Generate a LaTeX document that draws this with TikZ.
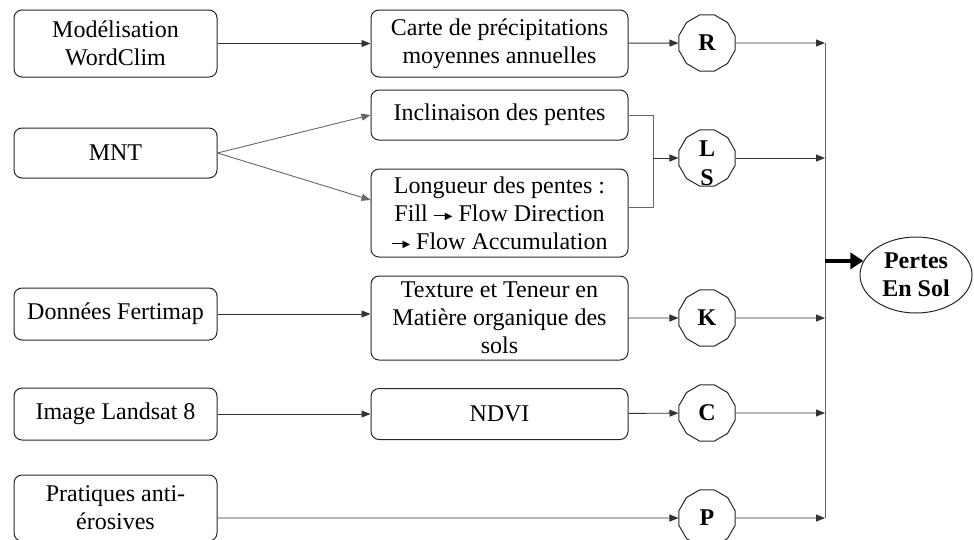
\documentclass[tikz,border=0pt]{standalone}
\usepackage{fontspec}
\setmainfont{Liberation Serif}
\newfontfamily\arrowfont{DejaVu Sans}
\newcommand{\tinyarrow}{\raisebox{5pt}{\rule{13pt}{1.1pt}}\kern-2pt\raisebox{2pt}{\arrowfont\fontsize{10}{10}\selectfont\char"25B6}}
\usetikzlibrary{positioning,shapes.geometric,arrows.meta}

\begin{document}
\begin{tikzpicture}[x=1pt, y=-1pt,
    font=\fontsize{24}{28}\selectfont,
    source/.style={draw=black!85, line width=1pt, rounded corners=8pt, align=center,
      minimum width=203pt, inner sep=2pt},
    process/.style={source, minimum width=257pt},
    factor/.style={draw=black!85, line width=1pt, regular polygon, regular polygon sides=12,
      minimum size=58pt, inner sep=0pt, font=\fontsize{24}{28}\selectfont\bfseries},
    result/.style={draw=black!85, line width=1pt, ellipse, minimum width=112pt,
      minimum height=76pt, inner sep=0pt, align=center, font=\fontsize{24}{28}\selectfont\bfseries},
    flow/.style={draw=black!80, line width=0.9pt, -{Triangle[length=9pt,width=7pt]}},
    link/.style={draw=black!60, line width=0.9pt},
    bigflow/.style={draw=black, line width=4.5pt, -{Triangle[length=13pt,width=16pt]}}
  ]
        \useasboundingbox (0,0) rectangle (974,539);

        % NODES
        % -----------------

        % sources
        \node[source, minimum height=67pt] (wc) at (115.5,43.5) {Modélisation\\WordClim};
        \node[source, minimum height=50pt] (mnt) at (115.5,153) {MNT};
        \node[source, minimum height=52pt] (fert) at (115.5,314) {Données Fertimap};
        \node[source, minimum height=52pt] (land) at (115.5,414) {Image Landsat 8};
        \node[source, minimum height=66pt] (prat) at (115.5,508) {Pratiques anti-\\érosives};

        % derived layers
        \node[process, minimum height=67pt, right=153pt of wc] (carte) {Carte de précipitations\\moyennes annuelles};
        \node[process, minimum height=50pt, right=153pt of mnt, yshift=38pt] (incl) {Inclinaison des pentes};
        \node[process, minimum height=88pt, right=153pt of mnt, yshift=-60pt] (long) {Longueur des pentes :\\Fill \tinyarrow{} Flow Direction\\\tinyarrow{} Flow Accumulation};
        \node[process, minimum height=84pt, right=153pt of fert, yshift=-4pt] (tex) {Texture et Teneur en\\Matière organique des\\sols};
        \node[process, minimum height=51pt, right=153pt of land] (ndvi) {NDVI};

        % factors
        \node[factor] (r) at (707,43) {R};
        \node[factor] (ls) at (707,158) {\smash{\raisebox{-14pt}{\begin{tabular}{@{}c@{}}L\\[1pt]S\end{tabular}}}};
        \node[factor] (k) at (707,318) {K};
        \node[factor] (c) at (707,413) {C};
        \node[factor] (p) at (707,518) {P};

        \node[result] (pes) at (916,275) {Pertes\\En Sol};

        \coordinate (brk) at (653,115);
        \coordinate (bus) at (825,0);

        % EDGES
        % -----------------
        \draw[flow] (wc) -- (carte);
        \draw[flow] (carte) -- (r);

        \draw[flow, draw=black!60] (mnt.east) -- (incl.west);
        \draw[flow, draw=black!60] (mnt.east) -- ([yshift=13pt]long.west);
        \draw[link] (incl.east) -- (brk) |- ([yshift=6pt]long.east);
        \draw[flow] (brk |- ls) -- (ls);

        \draw[flow] (fert) -- (fert -| tex.west);
        \draw[flow] (tex) -- (k);
        \draw[flow] (land) -- (ndvi);
        \draw[flow] (ndvi) -- (c);
        \draw[flow] (prat.east |- p) -- (p);

        % collector
        \draw[link] (bus |- r) -- (bus |- p);
        \foreach \f in {r,ls,k,c,p}
          \draw[flow] (\f) -- (\f -| bus);
        \draw[bigflow] (bus |- pes.165) -- (pes.165);

\end{tikzpicture}
\end{document}
